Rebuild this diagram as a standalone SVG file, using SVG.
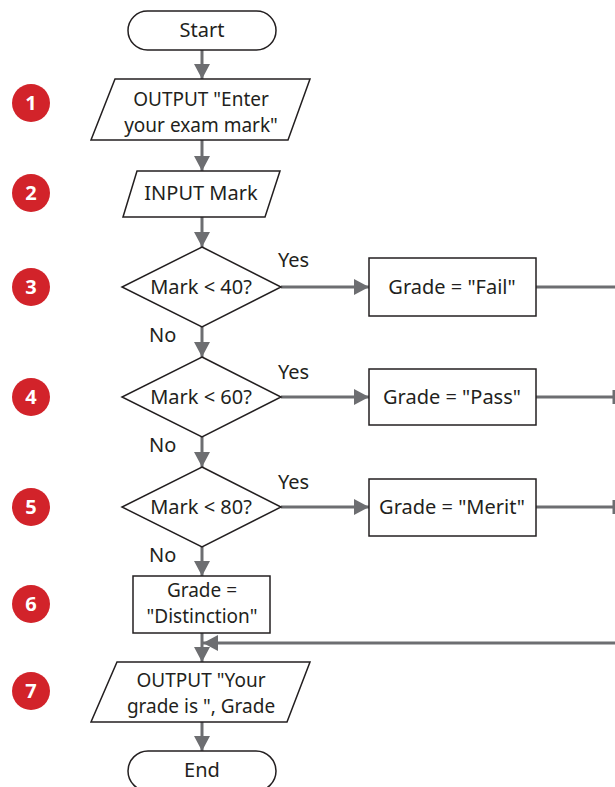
<svg xmlns="http://www.w3.org/2000/svg" width="615" height="787" viewBox="0 0 615 787">
<defs>
<style>
.s{fill:#fff;stroke:#231f20;stroke-width:1.5}
.t{font-family:"Noto Sans","Open Sans",sans-serif;font-size:20px;fill:#231f20;text-anchor:middle}
.m{font-family:"Noto Sans","Open Sans",sans-serif;font-size:19px;fill:#231f20;text-anchor:middle}
.l{font-family:"Noto Sans","Open Sans",sans-serif;font-size:20px;fill:#231f20}
.c{stroke:#6d6e71;stroke-width:3;fill:none}
.b{fill:#d2232a}
.n{font-family:"Open Sans","Noto Sans",sans-serif;font-weight:bold;font-size:20px;fill:#fff;text-anchor:middle}
</style>
<marker id="a" markerUnits="userSpaceOnUse" markerWidth="16" markerHeight="16" viewBox="0 0 16 16" refX="15" refY="8" orient="auto">
<path d="M0,0 L15,8 L0,16 Z" fill="#6d6e71"/>
</marker>
</defs>
<g id="badges">
<g id="b1"><circle class="b" cx="31" cy="103" r="19"/><text class="n" x="31" y="110">1</text></g>
<g id="b2"><circle class="b" cx="31" cy="193" r="19"/><text class="n" x="31" y="200">2</text></g>
<g id="b3"><circle class="b" cx="31" cy="287" r="19"/><text class="n" x="31" y="294">3</text></g>
<g id="b4"><circle class="b" cx="31" cy="397" r="19"/><text class="n" x="31" y="404">4</text></g>
<g id="b5"><circle class="b" cx="31" cy="507" r="19"/><text class="n" x="31" y="514">5</text></g>
<g id="b6"><circle class="b" cx="31" cy="604" r="19"/><text class="n" x="31" y="611">6</text></g>
<g id="b7"><circle class="b" cx="31" cy="691" r="19"/><text class="n" x="31" y="698">7</text></g>
</g>
<g id="connectors">
<line class="c" x1="202" y1="50" x2="202" y2="79" marker-end="url(#a)"/>
<line class="c" x1="202" y1="140" x2="202" y2="171" marker-end="url(#a)"/>
<line class="c" x1="202" y1="217" x2="202" y2="247" marker-end="url(#a)"/>
<line class="c" x1="281" y1="287" x2="369" y2="287" marker-end="url(#a)"/>
<line class="c" x1="202" y1="327" x2="202" y2="357" marker-end="url(#a)"/>
<line class="c" x1="281" y1="397" x2="369" y2="397" marker-end="url(#a)"/>
<line class="c" x1="202" y1="437" x2="202" y2="467" marker-end="url(#a)"/>
<line class="c" x1="281" y1="507" x2="369" y2="507" marker-end="url(#a)"/>
<line class="c" x1="202" y1="547" x2="202" y2="576" marker-end="url(#a)"/>
<line class="c" x1="536" y1="287" x2="615" y2="287"/>
<line class="c" x1="536" y1="397" x2="613" y2="397"/>
<line class="c" x1="614" y1="390" x2="614" y2="404"/>
<line class="c" x1="536" y1="507" x2="613" y2="507"/>
<line class="c" x1="614" y1="500" x2="614" y2="514"/>
<line class="c" x1="615" y1="643" x2="203" y2="643" marker-end="url(#a)"/>
<line class="c" x1="202" y1="633" x2="202" y2="662" marker-end="url(#a)"/>
<line class="c" x1="202" y1="722" x2="202" y2="751" marker-end="url(#a)"/>
</g>
<g id="start"><rect class="s" x="128" y="11" width="148" height="39" rx="19.5"/><text class="t" x="202" y="37">Start</text></g>
<g id="out1"><polygon class="s" points="115,79 310,79 288,140 91,140"/><text class="m" x="201" y="106">OUTPUT "Enter</text><text class="m" x="201" y="132">your exam mark"</text></g>
<g id="in2"><polygon class="s" points="137,171 280,171 265,217 123,217"/><text class="t" x="201" y="200">INPUT Mark</text></g>
<g id="d3"><polygon class="s" points="202,247 281,287 202,327 122,287"/><text class="t" x="201" y="294">Mark &lt; 40?</text></g>
<g id="d4"><polygon class="s" points="202,357 281,397 202,437 122,397"/><text class="t" x="201" y="404">Mark &lt; 60?</text></g>
<g id="d5"><polygon class="s" points="202,467 281,507 202,547 122,507"/><text class="t" x="201" y="514">Mark &lt; 80?</text></g>
<g id="labels">
<text class="l" x="278" y="267">Yes</text>
<text class="l" x="278" y="379">Yes</text>
<text class="l" x="278" y="489">Yes</text>
<text class="l" x="149" y="342">No</text>
<text class="l" x="149" y="452">No</text>
<text class="l" x="149" y="562">No</text>
</g>
<g id="fail"><rect class="s" x="369" y="258" width="167" height="58"/><text class="t" x="452" y="294">Grade = "Fail"</text></g>
<g id="pass"><rect class="s" x="369" y="369" width="167" height="56"/><text class="t" x="452" y="404">Grade = "Pass"</text></g>
<g id="merit"><rect class="s" x="369" y="479" width="167" height="57"/><text class="t" x="452" y="514">Grade = "Merit"</text></g>
<g id="dist"><rect class="s" x="133" y="576" width="137" height="57"/><text class="m" x="202" y="597">Grade =</text><text class="m" x="202" y="623">"Distinction"</text></g>
<g id="out7"><polygon class="s" points="117,662 310,662 287,722 91,722"/><text class="m" x="201" y="687">OUTPUT "Your</text><text class="m" x="201" y="713">grade is ", Grade</text></g>
<g id="end"><rect class="s" x="128" y="751" width="148" height="40" rx="20"/><text class="t" x="202" y="777">End</text></g>
</svg>
